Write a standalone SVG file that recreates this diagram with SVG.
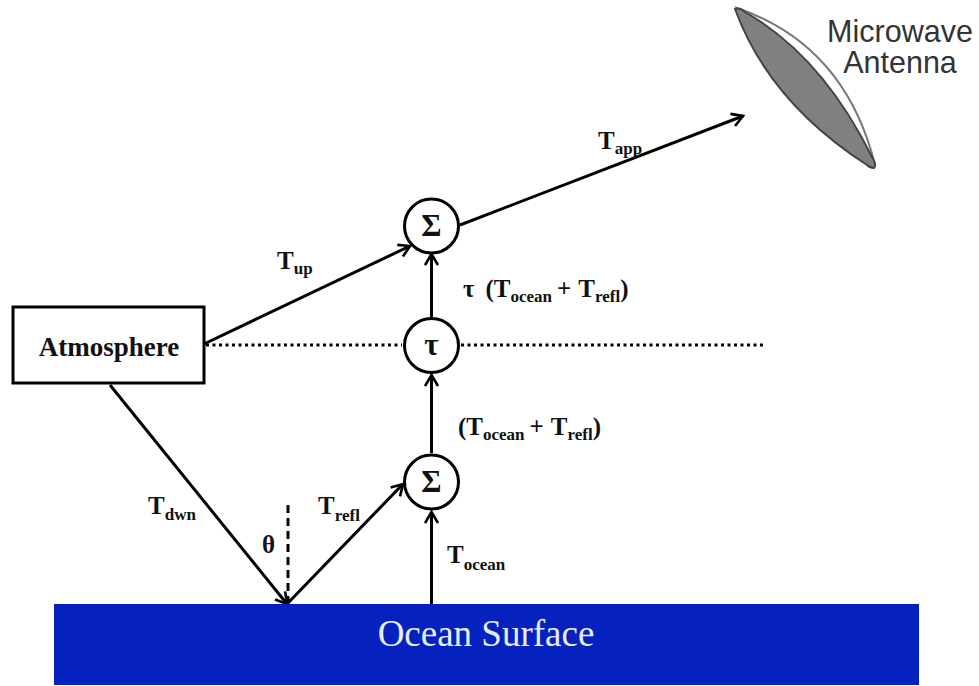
<svg xmlns="http://www.w3.org/2000/svg" width="979" height="686" viewBox="0 0 979 686">
<style>
.l{stroke:#000;stroke-width:3;fill:none}
.a{marker-end:url(#arr)}
.n{fill:#fff;stroke:#000;stroke-width:3}
text{font-family:"Liberation Serif",serif;font-weight:bold;fill:#111;font-size:25px}
.s{font-size:17px}
.sym{font-size:31px;text-anchor:middle}
.sans{font-family:"Liberation Sans",sans-serif;font-weight:normal;font-size:30.5px;fill:#333;text-anchor:middle}
</style>
<defs><marker id="arr" viewBox="0 0 16 16" refX="14" refY="8" markerWidth="16" markerHeight="16" markerUnits="userSpaceOnUse" orient="auto"><path d="M3 1.5L14 8L3 14.5" fill="none" stroke="#000" stroke-width="2.6"/></marker></defs>
<rect width="979" height="686" fill="#fff"/>
<g id="connectors">
<path class="l a" d="M204 344L410 246"/>
<path class="l a" d="M460 225L743 116"/>
<path class="l a" d="M431.500 318V254"/>
<path class="l a" d="M431.500 453V375"/>
<path class="l a" d="M431.500 604V512"/>
<path class="l a" d="M110 385L287 604"/>
<path class="l a" d="M287 604L403 484"/>
<path d="M288 604V501" class="l" stroke-dasharray="8 5"/>
<path d="M206 345H402M461 345H765" stroke="#000" stroke-width="3" fill="none" stroke-dasharray="3 3.500"/>
</g>
<g id="atmosphere"><rect class="n" x="13" y="307" width="191" height="76"/><text x="109" y="356" text-anchor="middle" style="font-size:27px">Atmosphere</text></g>
<g id="sum-top"><circle class="n" cx="431.500" cy="226" r="27"/><text class="sym" x="431.500" y="236">Σ</text></g>
<g id="tau"><circle class="n" cx="431.500" cy="345.500" r="27"/><text class="sym" x="431.500" y="355">τ</text></g>
<g id="sum-bottom"><circle class="n" cx="431.500" cy="482" r="27"/><text class="sym" x="431.500" y="492">Σ</text></g>
<g id="ocean"><rect x="54" y="604" width="865" height="81" fill="#0522bf"/><text x="486" y="646" text-anchor="middle" style="font-size:37px;font-weight:normal;fill:#e8ecff">Ocean Surface</text></g>
<g id="antenna">
<path d="M737 8Q845 45 875 165Z" fill="#fff" stroke="#777" stroke-width="2"/>
<path d="M735 9Q740 7 745 12Q822 56 872 157Q877 165 874 168Q870 168 867 165Q769 102 735 9Z" fill="#808080" stroke="#444" stroke-width="2"/>
<text class="sans" x="900" y="42">Microwave</text><text class="sans" x="900" y="73">Antenna</text>
</g>
<g id="labels">
<text x="598" y="149">T<tspan class="s" dy="5">app</tspan></text>
<text x="277" y="269">T<tspan class="s" dy="5">up</tspan></text>
<text x="463" y="297">τ<tspan dx="11">(T</tspan><tspan class="s" dy="5">ocean</tspan><tspan dy="-5" dx="5">+</tspan><tspan dx="7">T</tspan><tspan class="s" dy="5">refl</tspan><tspan dy="-5">)</tspan></text>
<text x="458" y="435">(T<tspan class="s" dy="5">ocean</tspan><tspan dy="-5" dx="5">+</tspan><tspan dx="7">T</tspan><tspan class="s" dy="5">refl</tspan><tspan dy="-5">)</tspan></text>
<text x="148" y="514">T<tspan class="s" dy="6">dwn</tspan></text>
<text x="318" y="514">T<tspan class="s" dy="7">refl</tspan></text>
<text x="262" y="553">θ</text>
<text x="447" y="563">T<tspan class="s" dy="7">ocean</tspan></text>
</g>
</svg>
